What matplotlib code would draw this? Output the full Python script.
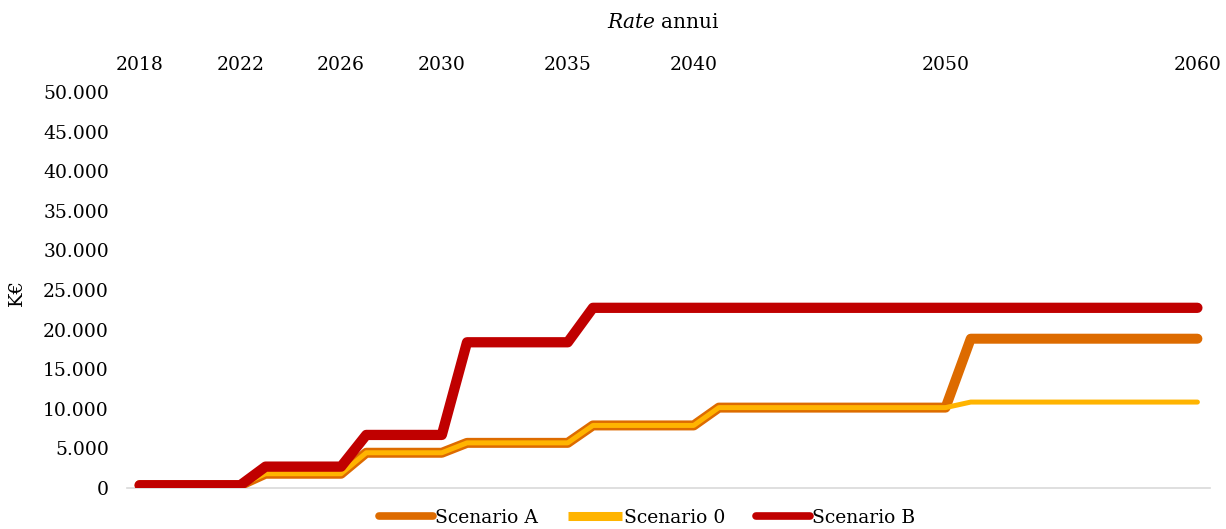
import matplotlib
matplotlib.use("Agg")
import matplotlib.pyplot as plt
from matplotlib.lines import Line2D
from matplotlib.ticker import FuncFormatter

plt.rcParams['font.family'] = ['DejaVu Serif']
plt.rcParams['mathtext.fontset'] = 'dejavuserif'

# data
years = list(range(2018, 2061))
scen_a = [350, 350, 350, 350, 350,
          1800, 1800, 1800, 1800,
          4450, 4450, 4450, 4450,
          5700, 5700, 5700, 5700, 5700,
          7900, 7900, 7900, 7900, 7900,
          10150, 10150, 10150, 10150, 10150, 10150, 10150, 10150, 10150, 10150,
          18850, 18850, 18850, 18850, 18850, 18850, 18850, 18850, 18850, 18850]
scen_0 = [350, 350, 350, 350, 350,
          1800, 1800, 1800, 1800,
          4450, 4450, 4450, 4450,
          5700, 5700, 5700, 5700, 5700,
          7900, 7900, 7900, 7900, 7900,
          10150, 10150, 10150, 10150, 10150, 10150, 10150, 10150, 10150, 10150,
          10850, 10850, 10850, 10850, 10850, 10850, 10850, 10850, 10850, 10850]
scen_b = [350, 350, 350, 350, 350,
          2700, 2700, 2700, 2700,
          6700, 6700, 6700, 6700,
          18400, 18400, 18400, 18400, 18400,
          22750, 22750, 22750, 22750, 22750,
          22750, 22750, 22750, 22750, 22750, 22750, 22750, 22750, 22750, 22750,
          22750, 22750, 22750, 22750, 22750, 22750, 22750, 22750, 22750, 22750]
xticks = [2018, 2022, 2026, 2030, 2035, 2040, 2050, 2060]
yticks = list(range(0, 50001, 5000))

c_a = '#DD6B00'
c_0 = '#FFB400'
c_b = '#C00000'

fig = plt.figure(figsize=(12.26, 5.29), dpi=100)
ax = fig.add_axes([127/1226, 1 - 488/529, (1210 - 127)/1226, (488 - 92)/529])

ax.plot(years, scen_a, color=c_a, lw=7.2, solid_capstyle='round', solid_joinstyle='round', zorder=2)
ax.plot(years, scen_0, color=c_0, lw=3.6, solid_capstyle='round', solid_joinstyle='round', zorder=3)
ax.plot(years, scen_b, color=c_b, lw=7.4, solid_capstyle='round', solid_joinstyle='round', zorder=4)

ax.set_xlim(2017.5, 2060.5)
ax.set_ylim(0, 50000)
ax.xaxis.tick_top()
ax.set_xticks(xticks)
ax.set_yticks(yticks)
ax.yaxis.set_major_formatter(FuncFormatter(lambda v, p: f'{int(v):,}'.replace(',', '.')))
ax.tick_params(axis='x', length=0, pad=13, labelsize=13.5)
ax.tick_params(axis='y', length=0, pad=13, labelsize=13.5)

for s in ['top', 'left', 'right']:
    ax.spines[s].set_visible(False)
ax.spines['bottom'].set_color('#D9D9D9')
ax.spines['bottom'].set_linewidth(1.2)
ax.spines['bottom'].set_zorder(1)

fig.text(663/1226, 1 - 22/529, r'$\mathit{Rate}$ annui', ha='center', va='center', fontsize=14.5)
fig.text(17/1226, 1 - 292/529, 'K€', rotation=90, ha='center', va='center', fontsize=14)

handles = [Line2D([], [], color=c_a, lw=5.5, solid_capstyle='round'),
           Line2D([], [], color=c_0, lw=6.5, solid_capstyle='butt'),
           Line2D([], [], color=c_b, lw=5.5, solid_capstyle='round')]
fig.legend(handles, ['Scenario A', 'Scenario 0', 'Scenario B'], loc='center',
           bbox_to_anchor=(647/1226, 1 - 518/529), ncol=3, frameon=False,
           fontsize=13.5, handlelength=2.9, handletextpad=0.1, columnspacing=1.6)

fig.savefig('out.png', dpi=100)
